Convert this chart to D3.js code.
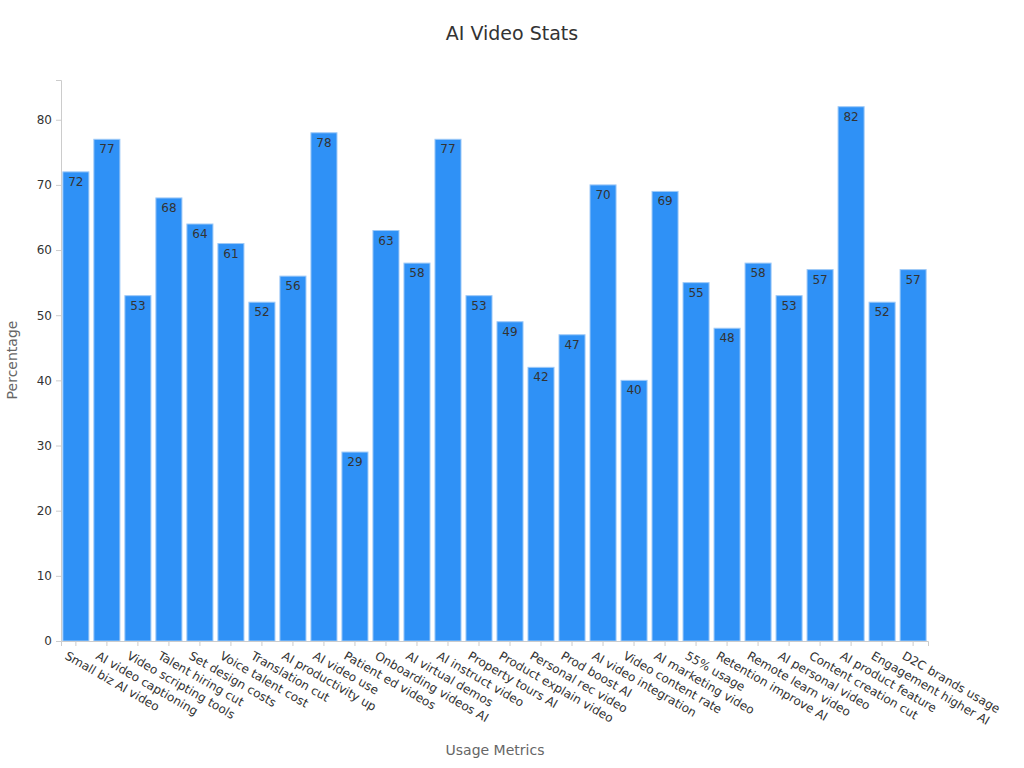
<!DOCTYPE html>
<html><head><meta charset="utf-8">
<script src="https://cdn.jsdelivr.net/npm/d3@7"></script>
<style>body{margin:0;background:#fff;font-family:"DejaVu Sans",sans-serif}</style>
</head><body><svg id="c" width="1024" height="768"></svg>
<script>
const categories=["Small biz AI video","AI video captioning","Video scripting tools","Talent hiring cut","Set design costs","Voice talent cost","Translation cut","AI productivity up","AI video use","Patient ed videos","Onboarding videos AI","AI virtual demos","AI instruct video","Property tours AI","Product explain video","Personal rec video","Prod boost AI","AI video integration","Video content rate","AI marketing video","55% usage","Retention improve AI","Remote learn video","AI personal video","Content creation cut","AI product feature","Engagement higher AI","D2C brands usage"];
const values=[72,77,53,68,64,61,52,56,78,29,63,58,77,53,49,42,47,70,40,69,55,48,58,53,57,82,52,57];
const yTicks=[0,10,20,30,40,50,60,70,80];
const svg=d3.select("#c");
const m={l:61,r:96,t:80,b:127};
const W=1024-m.l-m.r,H=768-m.t-m.b;
const x=d3.scaleBand().domain(categories).range([0,W]).paddingInner(0.16).paddingOuter(0.06);
const y=d3.scaleLinear().domain([0,86.1]).range([H,0]);
const g=svg.append("g").attr("transform",`translate(${m.l},${m.t})`);
svg.append("text").attr("x",512).attr("y",40).attr("text-anchor","middle").attr("font-size",19).attr("fill","#333").text("AI Video Stats");
g.selectAll("rect").data(values).join("rect").attr("x",(d,i)=>x(categories[i])).attr("width",x.bandwidth()).attr("y",d=>y(d)).attr("height",d=>H-y(d)).attr("fill","#2f91f6").attr("stroke","#9ec9f7").attr("stroke-width",1);
g.selectAll(".lb").data(values).join("text").attr("x",(d,i)=>x(categories[i])+x.bandwidth()/2).attr("y",d=>y(d)+14).attr("text-anchor","middle").attr("font-size",12).attr("fill","#333").text(d=>d);
const ya=g.append("g").call(d3.axisLeft(y).tickValues(yTicks).tickSize(5).tickPadding(4));
const xa=g.append("g").attr("transform",`translate(0,${H})`).call(d3.axisBottom(x).tickSize(5).tickPadding(4));
[ya,xa].forEach(a=>{a.selectAll("path,line").attr("stroke","#ccc");a.selectAll("text").attr("font-size",12).attr("fill","#333").attr("font-family","DejaVu Sans");});
xa.selectAll("text").attr("text-anchor","start").attr("transform","translate(-2,0) rotate(30)").attr("dy","0.9em");
svg.append("text").attr("x",495).attr("y",755).attr("text-anchor","middle").attr("font-size",14).attr("fill","#666").text("Usage Metrics");
svg.append("text").attr("transform","translate(17,360) rotate(-90)").attr("text-anchor","middle").attr("font-size",14).attr("fill","#666").text("Percentage");
</script></body></html>
